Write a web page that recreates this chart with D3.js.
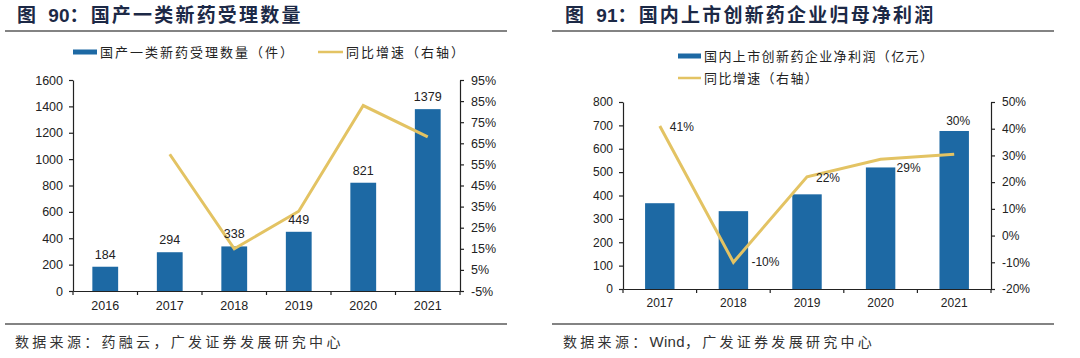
<!DOCTYPE html>
<html><head><meta charset="utf-8">
<script src="https://cdn.jsdelivr.net/npm/d3@7"></script>
<style>body{margin:0;background:#fff}svg{display:block}</style>
</head><body><svg id="c" width="1080" height="358"></svg>
<script>
// ---- Data: chart 1 ----
const years1 = ["2016","2017","2018","2019","2020","2021"];
const accepted = [184,294,338,449,821,1379];
const growth1 = [null,59.8,15.0,32.8,82.9,68.0];
const yTicks1 = [0,200,400,600,800,1000,1200,1400,1600];
const pctTicks1 = [-5,5,15,25,35,45,55,65,75,85,95];
// ---- Data: chart 2 ----
const years2 = ["2017","2018","2019","2020","2021"];
const profit = [367,333,405,520,676];
const growth2 = [41,-10,22,28.6,30.4];
const growthLabels2 = ["41%","-10%","22%","29%","30%"];
const yTicks2 = [0,100,200,300,400,500,600,700,800];
const pctTicks2 = [-20,-10,0,10,20,30,40,50];

const BLUE = "#1d69a4", GOLD = "#e3c363", NAVY = "#1c2946", TXT = "#222";
const FONT = "'Liberation Sans', Arial, sans-serif";
const CJK = "'Noto Sans CJK SC', sans-serif";
const svg = d3.select("#c");
svg.append("rect").attr("width",1080).attr("height",358).attr("fill","#fff");

function header(x0, x1, titleX, num, title, sourceParts) {
  const t = svg.append("text").attr("x", titleX).attr("y", 22).attr("fill", NAVY)
    .attr("font-family", CJK).attr("font-weight", "bold").attr("font-size", 19);
  t.append("tspan").text("图 ").attr("letter-spacing", 4);
  t.append("tspan").text(num).attr("font-family", FONT).attr("font-size", 19);
  t.append("tspan").text("：" + title).attr("letter-spacing", 2.2);
  svg.append("line").attr("x1", x0).attr("x2", x1).attr("y1", 31).attr("y2", 31)
    .attr("stroke", "#5a5a5a").attr("stroke-width", 1.6);
  svg.append("line").attr("x1", x0).attr("x2", x1).attr("y1", 324).attr("y2", 324)
    .attr("stroke", "#5a5a5a").attr("stroke-width", 1.6);
  const s = svg.append("text").attr("x", titleX - 2).attr("y", 347).attr("fill", "#333")
    .attr("font-family", CJK).attr("font-size", 14);
  sourceParts.forEach(p => {
    const latin = /^[A-Za-z]+$/.test(p);
    s.append("tspan").text(p).attr("letter-spacing", latin ? 0.3 : 3.3)
      .attr("font-family", latin ? FONT : CJK).attr("font-size", latin ? 15 : 14);
  });
}

function panel(cfg) {
  const x = d3.scaleBand().domain(cfg.cats).range([cfg.xl, cfg.xr]).paddingInner(0.6).paddingOuter(0.3);
  const y = d3.scaleLinear().domain(cfg.yDom).range([cfg.yb, cfg.yt]);
  const y2 = d3.scaleLinear().domain(cfg.pDom).range([cfg.yb, cfg.yt]);
  const g = svg.append("g");
  g.selectAll("rect.bar").data(cfg.vals).join("rect").attr("class","bar")
    .attr("x", (d,i) => x(cfg.cats[i])).attr("width", x.bandwidth())
    .attr("y", d => y(d)).attr("height", d => y(0) - y(d)).attr("fill", BLUE);
  const pts = cfg.growth.map((d,i) => ({d, c: cfg.cats[i]}));
  const line = d3.line().defined(p => p.d != null)
    .x(p => x(p.c) + x.bandwidth()/2).y(p => y2(p.d));
  g.append("path").datum(pts).attr("d", line).attr("fill","none")
    .attr("stroke", GOLD).attr("stroke-width", 3).attr("stroke-linejoin","miter");
  const la = g.append("g").attr("transform", `translate(${cfg.xl},0)`)
    .call(d3.axisLeft(y).tickValues(cfg.yTicks).tickSize(4).tickPadding(6).tickSizeOuter(0)
      .tickFormat(d3.format("d")));
  const ra = g.append("g").attr("transform", `translate(${cfg.xr},0)`)
    .call(d3.axisRight(y2).tickValues(cfg.pTicks).tickSize(4).tickPadding(7).tickSizeOuter(0)
      .tickFormat(d => d + "%"));
  const ba = g.append("g").attr("transform", `translate(0,${cfg.yb})`)
    .call(d3.axisBottom(x).tickSize(0).tickPadding(cfg.xPad).tickSizeOuter(0));
  const bounds = cfg.cats.map(c => x(c) - (x.step() - x.bandwidth())/2).concat([cfg.xr]);
  ba.selectAll("line.bt").data(bounds).join("line").attr("class","bt")
    .attr("x1", d => d).attr("x2", d => d).attr("y1", 0).attr("y2", 4).attr("stroke", "#222");
  [la, ra, ba].forEach(a => {
    a.selectAll("path,line").attr("stroke", "#222").attr("stroke-width", 1.2);
    a.selectAll("text").attr("font-family", FONT).attr("font-size", cfg.fs).attr("fill", TXT);
  });
  return {x, y, y2, g};
}

// ---- Chart 1 ----
header(5, 507, 17, "90", "国产一类新药受理数量", ["数据来源：药融云，广发证券发展研究中心"]);
const p1 = panel({cats: years1, vals: accepted, growth: growth1, xl: 73, xr: 460, yb: 291, yt: 80,
  yDom: [0,1600], pDom: [-5,95], yTicks: yTicks1, pTicks: pctTicks1, fs: 12.5, xPad: 10});
p1.g.selectAll("text.vl").data(accepted).join("text").attr("class","vl")
  .attr("x", (d,i) => p1.x(years1[i]) + p1.x.bandwidth()/2).attr("y", d => p1.y(d) - 8)
  .attr("text-anchor","middle").attr("font-family", FONT).attr("font-size", 12.5).attr("fill", TXT)
  .text(d => d);
svg.append("rect").attr("x",73).attr("y",49.5).attr("width",24).attr("height",5).attr("fill",BLUE);
svg.append("text").attr("x",100).attr("y",56.5).attr("font-family",CJK).attr("font-size",13)
  .attr("letter-spacing",2).attr("fill",TXT).text("国产一类新药受理数量（件）");
svg.append("line").attr("x1",318).attr("x2",343).attr("y1",52).attr("y2",52).attr("stroke",GOLD).attr("stroke-width",2.5);
svg.append("text").attr("x",346).attr("y",56.5).attr("font-family",CJK).attr("font-size",13)
  .attr("letter-spacing",2).attr("fill",TXT).text("同比增速（右轴）");

// ---- Chart 2 ----
header(552, 1054, 565, "91", "国内上市创新药企业归母净利润", ["数据来源：", "Wind", "，广发证券发展研究中心"]);
const p2 = panel({cats: years2, vals: profit, growth: growth2, xl: 623, xr: 991, yb: 289, yt: 102,
  yDom: [0,800], pDom: [-20,50], yTicks: yTicks2, pTicks: pctTicks2, fs: 12, xPad: 9});
const lblOff = [[10,5,"start"],[18,4,"start"],[9,5,"start"],[16,13,"start"],[4,-29,"middle"]];
p2.g.selectAll("text.gl").data(growth2).join("text").attr("class","gl")
  .attr("x", (d,i) => p2.x(years2[i]) + p2.x.bandwidth()/2 + lblOff[i][0])
  .attr("y", (d,i) => p2.y2(d) + lblOff[i][1]).attr("text-anchor", (d,i) => lblOff[i][2])
  .attr("font-family", FONT).attr("font-size", 12).attr("fill", TXT)
  .text((d,i) => growthLabels2[i]);
svg.append("rect").attr("x",678).attr("y",53.5).attr("width",23).attr("height",5).attr("fill",BLUE);
svg.append("text").attr("x",704).attr("y",60.5).attr("font-family",CJK).attr("font-size",13)
  .attr("letter-spacing",1.4).attr("fill",TXT).text("国内上市创新药企业净利润（亿元）");
svg.append("line").attr("x1",678).attr("x2",701).attr("y1",78).attr("y2",78).attr("stroke",GOLD).attr("stroke-width",2.5);
svg.append("text").attr("x",704).attr("y",82.5).attr("font-family",CJK).attr("font-size",13)
  .attr("letter-spacing",1.4).attr("fill",TXT).text("同比增速（右轴）");
</script></body></html>
